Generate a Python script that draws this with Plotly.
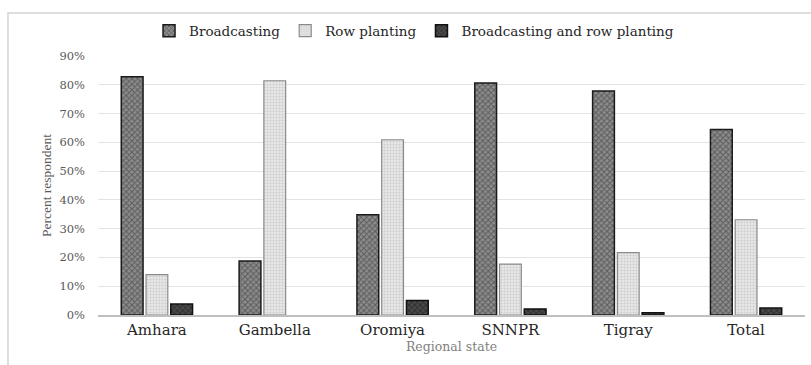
import plotly.graph_objects as go

# Regional states and share of respondents by sowing method (fractions)
regions = ["Amhara", "Gambella", "Oromiya", "SNNPR", "Tigray", "Total"]
broadcasting = [0.828, 0.188, 0.348, 0.806, 0.778, 0.645]
row_planting = [0.140, 0.814, 0.609, 0.177, 0.217, 0.331]
both_methods = [0.038, 0.0, 0.050, 0.021, 0.008, 0.024]

y_ticks = [0, 0.1, 0.2, 0.3, 0.4, 0.5, 0.6, 0.7, 0.8, 0.9]
y_tick_labels = ["0%", "10%", "20%", "30%", "40%", "50%", "60%", "70%", "80%", "90%"]

SERIF = "DejaVu Serif"


def outline_widths(values, width):
    # no outline on empty bars so they leave no sliver on the axis
    return [width if v > 0 else 0 for v in values]


fig = go.Figure()
fig.add_trace(go.Bar(
    name="Broadcasting", x=regions, y=broadcasting,
    marker=dict(color="#8c8c8c", line=dict(color="#1a1a1a", width=outline_widths(broadcasting, 1.5)),
                pattern=dict(shape="x", fgcolor="#2b2b2b", size=4, solidity=0.45)),
))
fig.add_trace(go.Bar(
    name="Row planting", x=regions, y=row_planting,
    marker=dict(color="#e8e8e8", line=dict(color="#8a8a8a", width=outline_widths(row_planting, 1.2)),
                pattern=dict(shape=".", fgcolor="#b0b0b0", size=3, solidity=0.4)),
))
fig.add_trace(go.Bar(
    name="Broadcasting and row planting", x=regions, y=both_methods,
    marker=dict(color="#4a4a4a", line=dict(color="#111111", width=outline_widths(both_methods, 1.5)),
                pattern=dict(shape="x", fgcolor="#111111", size=4, solidity=0.45)),
))

# Light frame around the chart
fig.add_shape(type="rect", xref="paper", yref="paper",
              x0=-0.1273, x1=1.02, y0=-0.25, y1=1.166,
              line=dict(color="#d4d4d4", width=1.5), fillcolor="rgba(0,0,0,0)", layer="below")

fig.update_layout(
    width=811, height=365,
    margin=dict(l=98, r=6, t=56, b=50),
    paper_bgcolor="white", plot_bgcolor="white",
    barmode="group", bargap=0.37, bargroupgap=0.12,
    font=dict(family=SERIF, color="#404040"),
    legend=dict(orientation="h", x=0.447, xanchor="center", y=1.097, yanchor="middle",
                font=dict(family=SERIF, size=13.5, color="#262626"),
                itemwidth=30, bgcolor="rgba(0,0,0,0)"),
    xaxis=dict(
        showgrid=False, showline=True, linecolor="#bfbfbf", linewidth=1.5,
        ticks="", tickfont=dict(family=SERIF, size=15, color="#262626"),
        title=dict(text="Regional state", font=dict(family=SERIF, size=12.5, color="#7f7f7f"),
                   standoff=4),
    ),
    yaxis=dict(
        range=[0, 0.9], tickvals=y_ticks, ticktext=y_tick_labels,
        showgrid=True, gridcolor="#e3e3e3", gridwidth=1,
        zeroline=False, showline=False, ticks="",
        ticklabelstandoff=12,
        tickfont=dict(family=SERIF, size=11.5, color="#595959"),
        title=dict(text="Percent respondent",
                   font=dict(family="Liberation Serif", size=13.5, color="#595959"),
                   standoff=4),
    ),
)

fig.write_html("out.html")
